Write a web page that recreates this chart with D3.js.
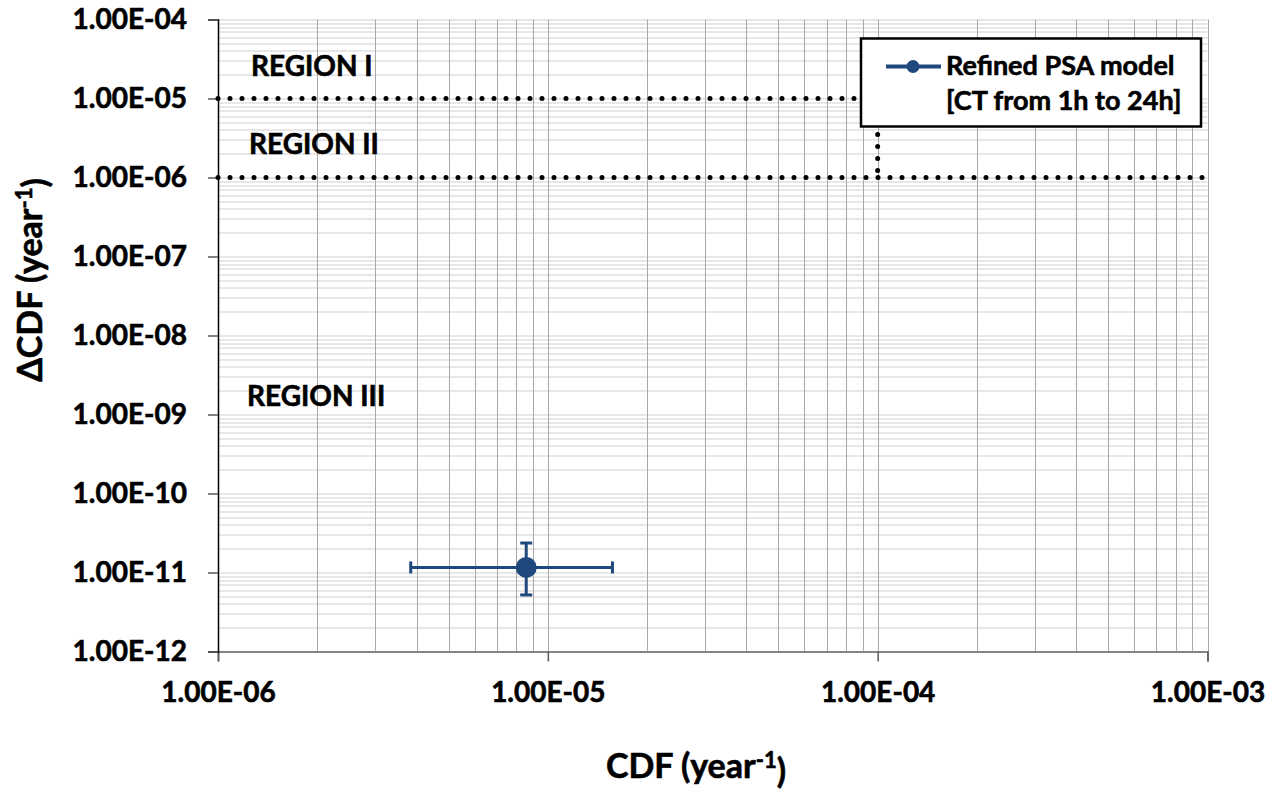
<!DOCTYPE html>
<html>
<head>
<meta charset="utf-8">
<script src="https://cdn.jsdelivr.net/npm/d3@7"></script>
<style>
  body { margin: 0; background: #fff; }
  text { font-family: Lato, "Noto Sans", sans-serif; font-weight: bold; fill: #000; stroke: #000; stroke-width: 0.6px; }
</style>
</head>
<body>
<div id="chart"></div>
<script>
// axis ranges and tick labels
var xDomain = [1e-6, 1e-3];
var yDomain = [1e-12, 1e-4];
var xTicks = [1e-6, 1e-5, 1e-4, 1e-3];
var yTicks = [1e-4, 1e-5, 1e-6, 1e-7, 1e-8, 1e-9, 1e-10, 1e-11, 1e-12];

// the one data point with its uncertainty bounds
var cdfMean = [8.6e-6];
var cdfLow = [3.84e-6];
var cdfHigh = [1.57e-5];
var dcdfMean = [1.16e-11];
var dcdfLow = [5.2e-12];
var dcdfHigh = [2.36e-11];

// region boundaries
var regionLimits = [1e-5, 1e-6];
var cdfLimit = 1e-4;
var regionNames = ["REGION I", "REGION II", "REGION III"];
var regionAt = [2.58e-5, 2.66e-6, 1.72e-9];

var legendLines = ["Refined PSA model", "[CT from 1h to 24h]"];

var blue = "#1f497d";

var margin = {top: 19.5, right: 64.5, bottom: 137.5, left: 218},
    width = 1272 - margin.left - margin.right,
    height = 789 - margin.top - margin.bottom;

var svg = d3.select("#chart")
  .append("svg")
    .attr("width", 1272)
    .attr("height", 789)
  .append("g")
    .attr("transform", "translate(" + margin.left + "," + margin.top + ")");

var x = d3.scaleLog().domain(xDomain).range([0, width]);
var y = d3.scaleLog().domain(yDomain).range([height, 0]);

// 1.00E-06 style labels
function sci(d) {
  var e = Math.round(Math.log10(d));
  var m = d / Math.pow(10, e);
  var s = e < 0 ? "-" : "+";
  var a = Math.abs(e);
  return m.toFixed(2) + "E" + s + (a < 10 ? "0" + a : a);
}

// minor grid values 1..9 per decade
function decadeSteps(dom) {
  var out = [];
  var lo = Math.round(Math.log10(dom[0])), hi = Math.round(Math.log10(dom[1]));
  for (var e = lo; e < hi; e++) {
    for (var k = 1; k < 10; k++) out.push(k * Math.pow(10, e));
  }
  out.push(dom[1]);
  return out;
}

// horizontal grid
svg.append("g")
  .selectAll("line")
  .data(decadeSteps(yDomain))
  .join("line")
    .attr("x1", 0).attr("x2", width)
    .attr("y1", d => Math.round(y(d)) + 0.5)
    .attr("y2", d => Math.round(y(d)) + 0.5)
    .attr("stroke", "#cfcfcf")
    .attr("stroke-width", 1);

// vertical grid
svg.append("g")
  .selectAll("line")
  .data(decadeSteps(xDomain))
  .join("line")
    .attr("y1", 0).attr("y2", height)
    .attr("x1", d => Math.round(x(d)) + 0.5)
    .attr("x2", d => Math.round(x(d)) + 0.5)
    .attr("stroke", "#a8a8a8")
    .attr("stroke-width", 1);

// x axis
var xAxis = svg.append("g")
  .attr("transform", "translate(0," + height + ")")
  .call(d3.axisBottom(x).tickValues(xTicks).tickFormat(sci).tickSize(10).tickPadding(21));
xAxis.select(".domain").attr("stroke", "#868686").attr("stroke-width", 2);
xAxis.selectAll(".tick line").attr("stroke", "#595959").attr("stroke-width", 1.5);
xAxis.selectAll(".tick text").style("font-size", "28px").attr("fill", "#000");

// y axis
var yAxis = svg.append("g")
  .call(d3.axisLeft(y).tickValues(yTicks).tickFormat(sci).tickSize(10).tickPadding(21));
yAxis.select(".domain").attr("stroke", "#000").attr("stroke-width", 1.5);
yAxis.selectAll(".tick line").attr("stroke", "#595959").attr("stroke-width", 1.5);
yAxis.selectAll(".tick text").style("font-size", "28px").attr("fill", "#000");

// dotted region limits
var dotted = {stroke: "#000", "stroke-width": 5, "stroke-linecap": "round", "stroke-dasharray": "0 12", fill: "none"};
function applyDots(sel) {
  Object.keys(dotted).forEach(k => sel.attr(k, dotted[k]));
}
svg.append("line")
  .attr("x1", x(xDomain[0])).attr("x2", x(cdfLimit))
  .attr("y1", y(regionLimits[0])).attr("y2", y(regionLimits[0]))
  .call(applyDots);
svg.append("line")
  .attr("x1", x(xDomain[0])).attr("x2", x(xDomain[1]))
  .attr("y1", y(regionLimits[1])).attr("y2", y(regionLimits[1]))
  .call(applyDots);
svg.append("line")
  .attr("x1", x(cdfLimit)).attr("x2", x(cdfLimit))
  .attr("y1", y(regionLimits[0])).attr("y2", y(regionLimits[1]))
  .call(applyDots);

// region labels
svg.append("g")
  .selectAll("text")
  .data(regionNames)
  .join("text")
    .attr("x", (d, i) => 33 - i * 2)
    .attr("y", (d, i) => y(regionAt[i]))
    .attr("dy", "0.36em")
    .style("font-size", "28px")
    .text(d => d);

// error bars and point
var pts = cdfMean.map((d, i) => ({
  cx: d, cy: dcdfMean[i], xl: cdfLow[i], xh: cdfHigh[i], yl: dcdfLow[i], yh: dcdfHigh[i]
}));
var cap = 6;
var pg = svg.append("g").attr("stroke", blue).attr("stroke-width", 3);
pts.forEach(p => {
  pg.append("line").attr("x1", x(p.xl)).attr("x2", x(p.xh)).attr("y1", y(p.cy)).attr("y2", y(p.cy));
  pg.append("line").attr("x1", x(p.xl)).attr("x2", x(p.xl)).attr("y1", y(p.cy) - cap).attr("y2", y(p.cy) + cap);
  pg.append("line").attr("x1", x(p.xh)).attr("x2", x(p.xh)).attr("y1", y(p.cy) - cap).attr("y2", y(p.cy) + cap);
  pg.append("line").attr("x1", x(p.cx)).attr("x2", x(p.cx)).attr("y1", y(p.yl)).attr("y2", y(p.yh));
  pg.append("line").attr("x1", x(p.cx) - cap).attr("x2", x(p.cx) + cap).attr("y1", y(p.yl)).attr("y2", y(p.yl));
  pg.append("line").attr("x1", x(p.cx) - cap).attr("x2", x(p.cx) + cap).attr("y1", y(p.yh)).attr("y2", y(p.yh));
});
svg.append("g")
  .selectAll("circle")
  .data(pts)
  .join("circle")
    .attr("cx", d => x(d.cx))
    .attr("cy", d => y(d.cy))
    .attr("r", 10.5)
    .attr("fill", blue);

// legend
var lg = svg.append("g").attr("transform", "translate(" + (861 - margin.left) + "," + (38.5 - margin.top) + ")");
lg.append("rect")
  .attr("width", 340).attr("height", 88)
  .attr("fill", "#fff").attr("stroke", "#000").attr("stroke-width", 2.5);
lg.append("line")
  .attr("x1", 25).attr("x2", 80).attr("y1", 28).attr("y2", 28)
  .attr("stroke", blue).attr("stroke-width", 4);
lg.append("circle").attr("cx", 52).attr("cy", 28).attr("r", 6.5).attr("fill", blue);
lg.selectAll("text.leg")
  .data(legendLines)
  .join("text")
    .attr("class", "leg")
    .attr("x", 85)
    .attr("y", (d, i) => 36 + i * 35)
    .style("font-size", "27px")
    .text(d => d);

// axis titles
var xt = svg.append("text")
  .attr("x", 696 - margin.left)
  .attr("y", 778 - margin.top)
  .attr("text-anchor", "middle")
  .style("font-size", "34px");
xt.append("tspan").text("CDF (year");
xt.append("tspan").attr("dy", "-0.45em").style("font-size", "22px").text("-1");
xt.append("tspan").attr("dy", "0.45em").text(")");

var yt = svg.append("text")
  .attr("transform", "translate(" + (42 - margin.left) + "," + (280 - margin.top) + ") rotate(-90)")
  .attr("text-anchor", "middle")
  .style("font-size", "34px");
yt.append("tspan").text("\u0394CDF (year");
yt.append("tspan").attr("dy", "-0.45em").style("font-size", "22px").text("-1");
yt.append("tspan").attr("dy", "0.45em").text(")");
</script>
</body>
</html>
